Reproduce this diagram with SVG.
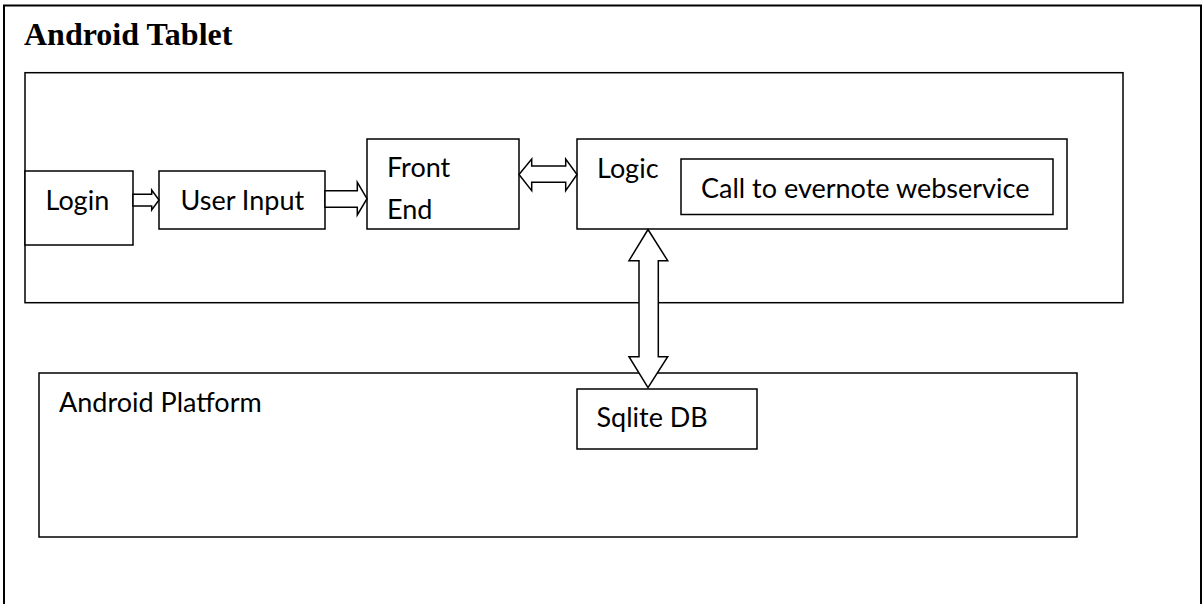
<svg xmlns="http://www.w3.org/2000/svg" width="1202" height="604" viewBox="0 0 1202 604">
<style>
.box{fill:#fff;stroke:#000;stroke-width:1.5}
.frame{fill:none;stroke:#000;stroke-width:2}
.conn{fill:#fff;stroke:#000;stroke-width:1.5;stroke-linejoin:miter}
.t{font-family:Lato,"Open Sans","Liberation Sans",sans-serif;font-size:27px;fill:#000}
.title{font-family:"Liberation Serif","Times New Roman",serif;font-weight:bold;font-size:32px;fill:#000}
</style>
<rect width="1202" height="604" fill="#fff"/>
<g id="frame">
<path class="frame" d="M4,604 V5.5 H1201 V604"/>
<text class="title" x="24" y="45">Android Tablet</text>
</g>
<g id="tablet">
<rect class="box" x="25" y="72.7" width="1098" height="230"/>
</g>
<g id="platform">
<rect class="box" x="39" y="373" width="1038" height="164"/>
<text class="t" x="59" y="411.7">Android Platform</text>
</g>
<g id="login">
<rect class="box" x="25" y="171" width="108" height="74"/>
<text class="t" x="45.5" y="210">Login</text>
</g>
<g id="user-input">
<rect class="box" x="159" y="171" width="166" height="58"/>
<text class="t" x="180.5" y="210">User Input</text>
</g>
<g id="front-end">
<rect class="box" x="367" y="139" width="152" height="90"/>
<text class="t" x="387" y="177.3">Front</text>
<text class="t" x="387" y="219">End</text>
</g>
<g id="logic">
<rect class="box" x="577" y="139" width="490" height="90"/>
<text class="t" x="597" y="178.3">Logic</text>
</g>
<g id="evernote">
<rect class="box" x="681" y="159" width="372" height="55.5"/>
<text class="t" x="701" y="197.7">Call to evernote webservice</text>
</g>
<g id="sqlite">
<rect class="box" x="577" y="389" width="180" height="60"/>
<text class="t" x="596.5" y="426.7">Sqlite DB</text>
</g>
<g id="connectors">
<path class="conn" d="M133,194.3 H151.7 V190 L159,200 L151.7,210 V206 H133 Z"/>
<path class="conn" d="M325,190.7 H357.3 V182.3 L367,198.7 L357.3,215 V207.3 H325 Z"/>
<path class="conn" d="M519,174.5 L531.7,159 V166 H565.7 V159 L577,174.5 L565.7,190.7 V182.3 H531.7 V190.7 Z"/>
<path class="conn" d="M648,229.5 L667.7,260.7 H658.3 V356.7 H667.7 L648,387.7 L629,356.7 H639 V260.7 H629 Z"/>
</g>
</svg>
